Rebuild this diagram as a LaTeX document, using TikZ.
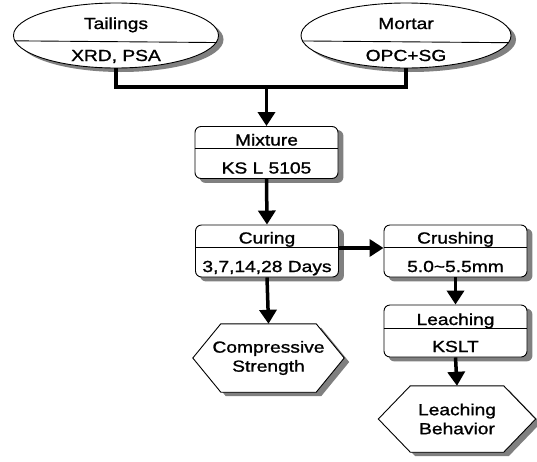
\documentclass[tikz,border=0pt]{standalone}
\usepackage{fontspec}
\setmainfont[FakeStretch=1.2,FakeBold=1.2]{Liberation Sans}
\usetikzlibrary{calc,shapes,backgrounds,arrows.meta}

\tikzset{
  shadowfill/.style={fill=black!50},
  ovalbox/.style={ellipse,draw,fill=white,line width=.9pt},
  stepbox/.style={rectangle,rounded corners=6pt,draw,fill=white,line width=.9pt,
    minimum width=143pt,minimum height=52pt},
  hexbox/.style={rectangle,align=center,inner sep=0pt,font=\fontsize{16}{19}\selectfont},
  txt/.style={anchor=base,inner sep=0pt,font=\fontsize{16}{19}\selectfont},
  conn/.style={line width=3.5pt},
  arr/.style={line width=3.5pt,-{Triangle[width=17pt,length=14pt]}}
}

\begin{document}
\begin{tikzpicture}[x=1pt,y=-1pt]
\useasboundingbox (0,0) rectangle (537,461);
% raw materials
\node[ovalbox,minimum width=205pt,minimum height=65pt] (tail) at (116,35.5) {};
\draw[line width=.9pt] (tail.183.1) -- (tail.356.9);
\node[txt] (tailT) at (116,29) {Tailings};
\node[txt] (tailB) at (116,61) {XRD, PSA};
\node[ovalbox,minimum width=210pt,minimum height=65pt] (mort) at (406,35.5) {};
\draw[line width=.9pt] (mort.183.1) -- (mort.356.9);
\node[txt] (mortT) at (406,29) {Mortar};
\node[txt] (mortB) at (406,61) {OPC+SG};
% process boxes
\node[stepbox] (mix) at (266.5,152.5) {};
\draw[line width=.9pt] ($(mix.north west)+(0,22.5)$) -- ($(mix.north east)+(0,22.5)$);
\node[txt] (mixT) at (266.5,145.5) {Mixture};
\node[txt] (mixB) at (266.5,173.5) {KS L 5105};
\node[stepbox] (cur) at (267,251) {};
\draw[line width=.9pt] ($(cur.north west)+(0,23)$) -- ($(cur.north east)+(0,23)$);
\node[txt] (curT) at (267,243.5) {Curing};
\node[txt] (curB) at (267,272) {3,7,14,28 Days};
\node[stepbox] (crush) at (455.5,251) {};
\draw[line width=.9pt] ($(crush.north west)+(0,23)$) -- ($(crush.north east)+(0,23)$);
\node[txt] (crushT) at (455.5,243.5) {Crushing};
\node[txt] (crushB) at (455.5,272) {5.0\char`\~5.5mm};
\node[stepbox] (leach) at (455.5,331) {};
\draw[line width=.9pt] ($(leach.north west)+(0,24)$) -- ($(leach.north east)+(0,24)$);
\node[txt] (leachT) at (455.5,325) {Leaching};
\node[txt] (leachB) at (455.5,352) {KSLT};
% results
\node[hexbox,minimum width=151pt,minimum height=68pt] (comp) at (268.5,358) {Compressive\\Strength};
\node[hexbox,minimum width=157pt,minimum height=66pt] (behav) at (457,419) {Leaching\\Behavior};
% shadows behind
\begin{scope}[on background layer]
\fill[shadowfill] ($(tail.center)+(5,4)$) ellipse [x radius=102.5,y radius=32.5];
\fill[shadowfill] ($(mort.center)+(5,4)$) ellipse [x radius=105,y radius=32.5];
\foreach \n in {mix,cur,crush,leach}{
  \fill[shadowfill,rounded corners=6pt] ($(\n.south west)+(5,4)$) rectangle ($(\n.north east)+(5,4)$);
}
\foreach \n/\d in {comp/28,behav/32}{
  \fill[shadowfill] ($(\n.west)+(5,4)$) -- ($(\n.north west)+(\d+5,4)$) -- ($(\n.north east)+(5-\d,4)$)
    -- ($(\n.east)+(5,4)$) -- ($(\n.south east)+(5-\d,4)$) -- ($(\n.south west)+(\d+5,4)$) -- cycle;
  \draw[line width=.9pt,fill=white] (\n.west) -- ($(\n.north west)+(\d,0)$) -- ($(\n.north east)+(-\d,0)$)
    -- (\n.east) -- ($(\n.south east)+(-\d,0)$) -- ($(\n.south west)+(\d,0)$) -- cycle;
}
\end{scope}
% connectors
\coordinate (jn) at (266.5,87);
\draw[conn] (tail.south) |- (jn) -| (mort.south);
\draw[arr] (jn) -- (mix.north);
\draw[arr] (mix.south) -- (cur.north);
\draw[arr] ([yshift=3pt]cur.east) -- ([yshift=3pt]crush.west);
\draw[arr] (cur.south) -- (comp.north);
\draw[arr] (crush.south) -- (leach.north);
\draw[arr] (leach.south) -- (behav.north);
\end{tikzpicture}
\end{document}
